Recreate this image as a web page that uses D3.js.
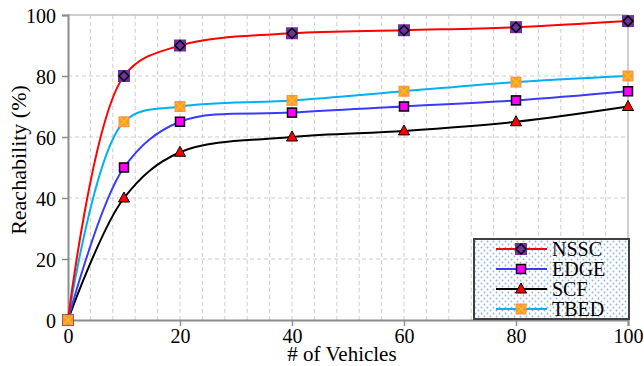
<!DOCTYPE html>
<html>
<head>
<meta charset="utf-8">
<script src="https://cdn.jsdelivr.net/npm/d3@7"></script>
<style>
  body { margin: 0; background: #fff; }
</style>
</head>
<body>
<div id="chart"></div>
<script>
// data
const vehicles = [0, 10, 20, 40, 60, 80, 100];
const nssc = [0, 80, 90, 94, 95, 96, 98];
const edge = [0, 50, 65, 68, 70, 72, 75];
const scf = [0, 40, 55, 60, 62, 65, 70];
const tbed = [0, 65, 70, 72, 75, 78, 80];
const xTicks = [0, 20, 40, 60, 80, 100];
const yTicks = [0, 20, 40, 60, 80, 100];

const series = [
  { name: 'NSSC', values: nssc, color: '#ff0000', marker: 'nssc' },
  { name: 'EDGE', values: edge, color: '#3a3aff', marker: 'edge' },
  { name: 'SCF', values: scf, color: '#000000', marker: 'scf' },
  { name: 'TBED', values: tbed, color: '#00b0f0', marker: 'tbed' },
];

const FONT = '"Liberation Serif", "Times New Roman", "DejaVu Serif", serif';
const width = 644, height = 366;
const margin = { top: 15, right: 16, bottom: 46, left: 68 };

const svg = d3.select('#chart').append('svg')
  .attr('width', width)
  .attr('height', height)
  .attr('font-family', FONT);

const defs = svg.append('defs');
const pat = defs.append('pattern')
  .attr('id', 'dots')
  .attr('patternUnits', 'userSpaceOnUse')
  .attr('width', 6).attr('height', 6);
pat.append('rect').attr('width', 6).attr('height', 6).attr('fill', '#fff');
pat.append('circle').attr('cx', 1.5).attr('cy', 1.5).attr('r', 0.9).attr('fill', '#8db3e2');
pat.append('circle').attr('cx', 4.5).attr('cy', 4.5).attr('r', 0.9).attr('fill', '#8db3e2');

const x = d3.scaleLinear().domain([0, 100]).range([margin.left, width - margin.right]);
const y = d3.scaleLinear().domain([0, 100]).range([height - margin.bottom, margin.top]);

// grid
const grid = svg.append('g');
grid.selectAll('line.vg')
  .data(d3.range(4, 100, 4))
  .enter().append('line')
    .attr('x1', d => x(d)).attr('x2', d => x(d))
    .attr('y1', y(0)).attr('y2', y(100))
    .attr('stroke', '#cccccc')
    .attr('stroke-dasharray', '4,3');
grid.selectAll('line.hg')
  .data(yTicks.filter(d => d > 0 && d < 100))
  .enter().append('line')
    .attr('x1', x(0)).attr('x2', x(100))
    .attr('y1', d => y(d)).attr('y2', d => y(d))
    .attr('stroke', '#cccccc')
    .attr('stroke-dasharray', '4,3');

// frame top/right
svg.append('line')
  .attr('x1', x(0)).attr('x2', x(100)).attr('y1', y(100)).attr('y2', y(100))
  .attr('stroke', '#bfbfbf').attr('stroke-width', 1.5);
svg.append('line')
  .attr('x1', x(100)).attr('x2', x(100)).attr('y1', y(0)).attr('y2', y(100))
  .attr('stroke', '#bfbfbf').attr('stroke-width', 1.5);

// axes
const xAxis = svg.append('g')
  .attr('transform', `translate(0,${y(0)})`)
  .call(d3.axisBottom(x).tickValues(xTicks).tickSize(6).tickPadding(3));
const yAxis = svg.append('g')
  .attr('transform', `translate(${x(0)},0)`)
  .call(d3.axisLeft(y).tickValues(yTicks).tickSize(6).tickPadding(6));
[xAxis, yAxis].forEach(a => {
  a.attr('font-family', FONT).attr('font-size', 20);
  a.select('.domain').attr('stroke', '#8c8c8c').attr('stroke-width', 2);
  a.selectAll('.tick line').attr('stroke', '#8c8c8c').attr('stroke-width', 1.5);
  a.selectAll('.tick text').attr('fill', '#000');
});
yAxis.selectAll('.tick text').attr('dy', '0.35em');

// axis titles
svg.append('text')
  .attr('x', 342).attr('y', 361)
  .attr('text-anchor', 'middle')
  .attr('font-size', 21)
  .text('# of Vehicles');
svg.append('text')
  .attr('transform', `translate(26,160) rotate(-90)`)
  .attr('text-anchor', 'middle')
  .attr('font-size', 22)
  .text('Reachability (%)');

// lines
const line = d3.line()
  .x((d, i) => x(vehicles[i]))
  .y(d => y(d))
  .curve(d3.curveCatmullRom.alpha(0.5));

const plot = svg.append('g');
// draw in back-to-front order
[3, 2, 1, 0].forEach(k => {
  const s = series[k];
  plot.append('path')
    .datum(s.values)
    .attr('fill', 'none')
    .attr('stroke', s.color)
    .attr('stroke-width', 2)
    .attr('d', line);
});

function drawMarker(g, type, cx, cy) {
  if (type === 'nssc') {
    g.append('rect')
      .attr('x', cx - 6).attr('y', cy - 6).attr('width', 12).attr('height', 12)
      .attr('fill', '#7030a0');
    g.append('path')
      .attr('d', `M${cx},${cy - 5}L${cx + 5},${cy}L${cx},${cy + 5}L${cx - 5},${cy}Z`)
      .attr('fill', 'none').attr('stroke', '#000').attr('stroke-width', 1.5);
  } else if (type === 'edge') {
    g.append('rect')
      .attr('x', cx - 4.5).attr('y', cy - 4.5).attr('width', 9).attr('height', 9)
      .attr('fill', '#ff00ff').attr('stroke', '#000').attr('stroke-width', 1.5);
  } else if (type === 'scf') {
    g.append('path')
      .attr('d', `M${cx},${cy - 6}L${cx + 5.5},${cy + 4}L${cx - 5.5},${cy + 4}Z`)
      .attr('fill', '#ff0000').attr('stroke', '#000').attr('stroke-width', 1);
  } else {
    g.append('rect')
      .attr('x', cx - 5.5).attr('y', cy - 5.5).attr('width', 11).attr('height', 11)
      .attr('fill', '#f79646');
    g.append('path')
      .attr('d', `M${cx - 4},${cy - 4}L${cx + 4},${cy + 4}M${cx + 4},${cy - 4}L${cx - 4},${cy + 4}`)
      .attr('stroke', '#ffc000').attr('stroke-width', 1.5);
  }
}

const markers = svg.append('g');
series.forEach(s => {
  s.values.forEach((v, i) => drawMarker(markers, s.marker, x(vehicles[i]), y(v)));
});

// legend
const lg = svg.append('g');
lg.append('rect')
  .attr('x', 474).attr('y', 239).attr('width', 155).attr('height', 80)
  .attr('fill', 'url(#dots)')
  .attr('stroke', '#404040').attr('stroke-width', 2);
series.forEach((s, i) => {
  const ly = 249 + i * 20;
  lg.append('line')
    .attr('x1', 496).attr('x2', 547).attr('y1', ly).attr('y2', ly)
    .attr('stroke', s.color).attr('stroke-width', 2);
  drawMarker(lg, s.marker, 521, ly);
  lg.append('text')
    .attr('x', 552).attr('y', ly)
    .attr('dy', '0.35em')
    .attr('font-size', 20)
    .text(s.name);
});
</script>
</body>
</html>
